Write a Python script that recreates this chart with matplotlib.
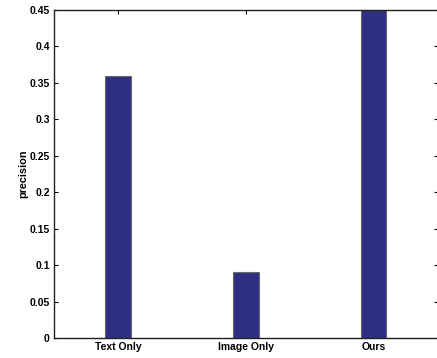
import matplotlib
matplotlib.use("Agg")
import matplotlib.pyplot as plt
import numpy as np

# data
methods = ["Text Only", "Image Only", "Ours"]
precision = [0.36, 0.09, 0.45]
yticks = [0, 0.05, 0.1, 0.15, 0.2, 0.25, 0.3, 0.35, 0.4, 0.45]
ytick_labels = ["0", "0.05", "0.1", "0.15", "0.2", "0.25", "0.3", "0.35", "0.4", "0.45"]

plt.rcParams["font.family"] = ["Liberation Sans", "DejaVu Sans"]
plt.rcParams["font.weight"] = "bold"

fig = plt.figure(figsize=(4.37, 3.58), dpi=100)
ax = fig.add_axes([54 / 437, 20 / 358, (437.5 - 54) / 437, (338 - 10) / 358])

x = np.arange(1, len(methods) + 1)
ax.bar(x, precision, width=0.2, color="#2e2e82", edgecolor="#6a6a6a", linewidth=0.8, zorder=2)

ax.set_xlim(0.5, 3.5)
ax.set_ylim(0, 0.45)
ax.set_xticks(x)
ax.set_xticklabels(methods, fontsize=7.5, fontweight="bold")
ax.set_yticks(yticks)
ax.set_yticklabels(ytick_labels, fontsize=7.5, fontweight="bold")
ax.set_ylabel("precision", fontsize=7.8, fontweight="bold", labelpad=1)

ax.tick_params(direction="in", length=3, width=0.8, top=True, right=True, pad=3)
for s in ax.spines.values():
    s.set_linewidth(1.0)
    s.set_color("#222222")

fig.savefig("out.png", dpi=100)
